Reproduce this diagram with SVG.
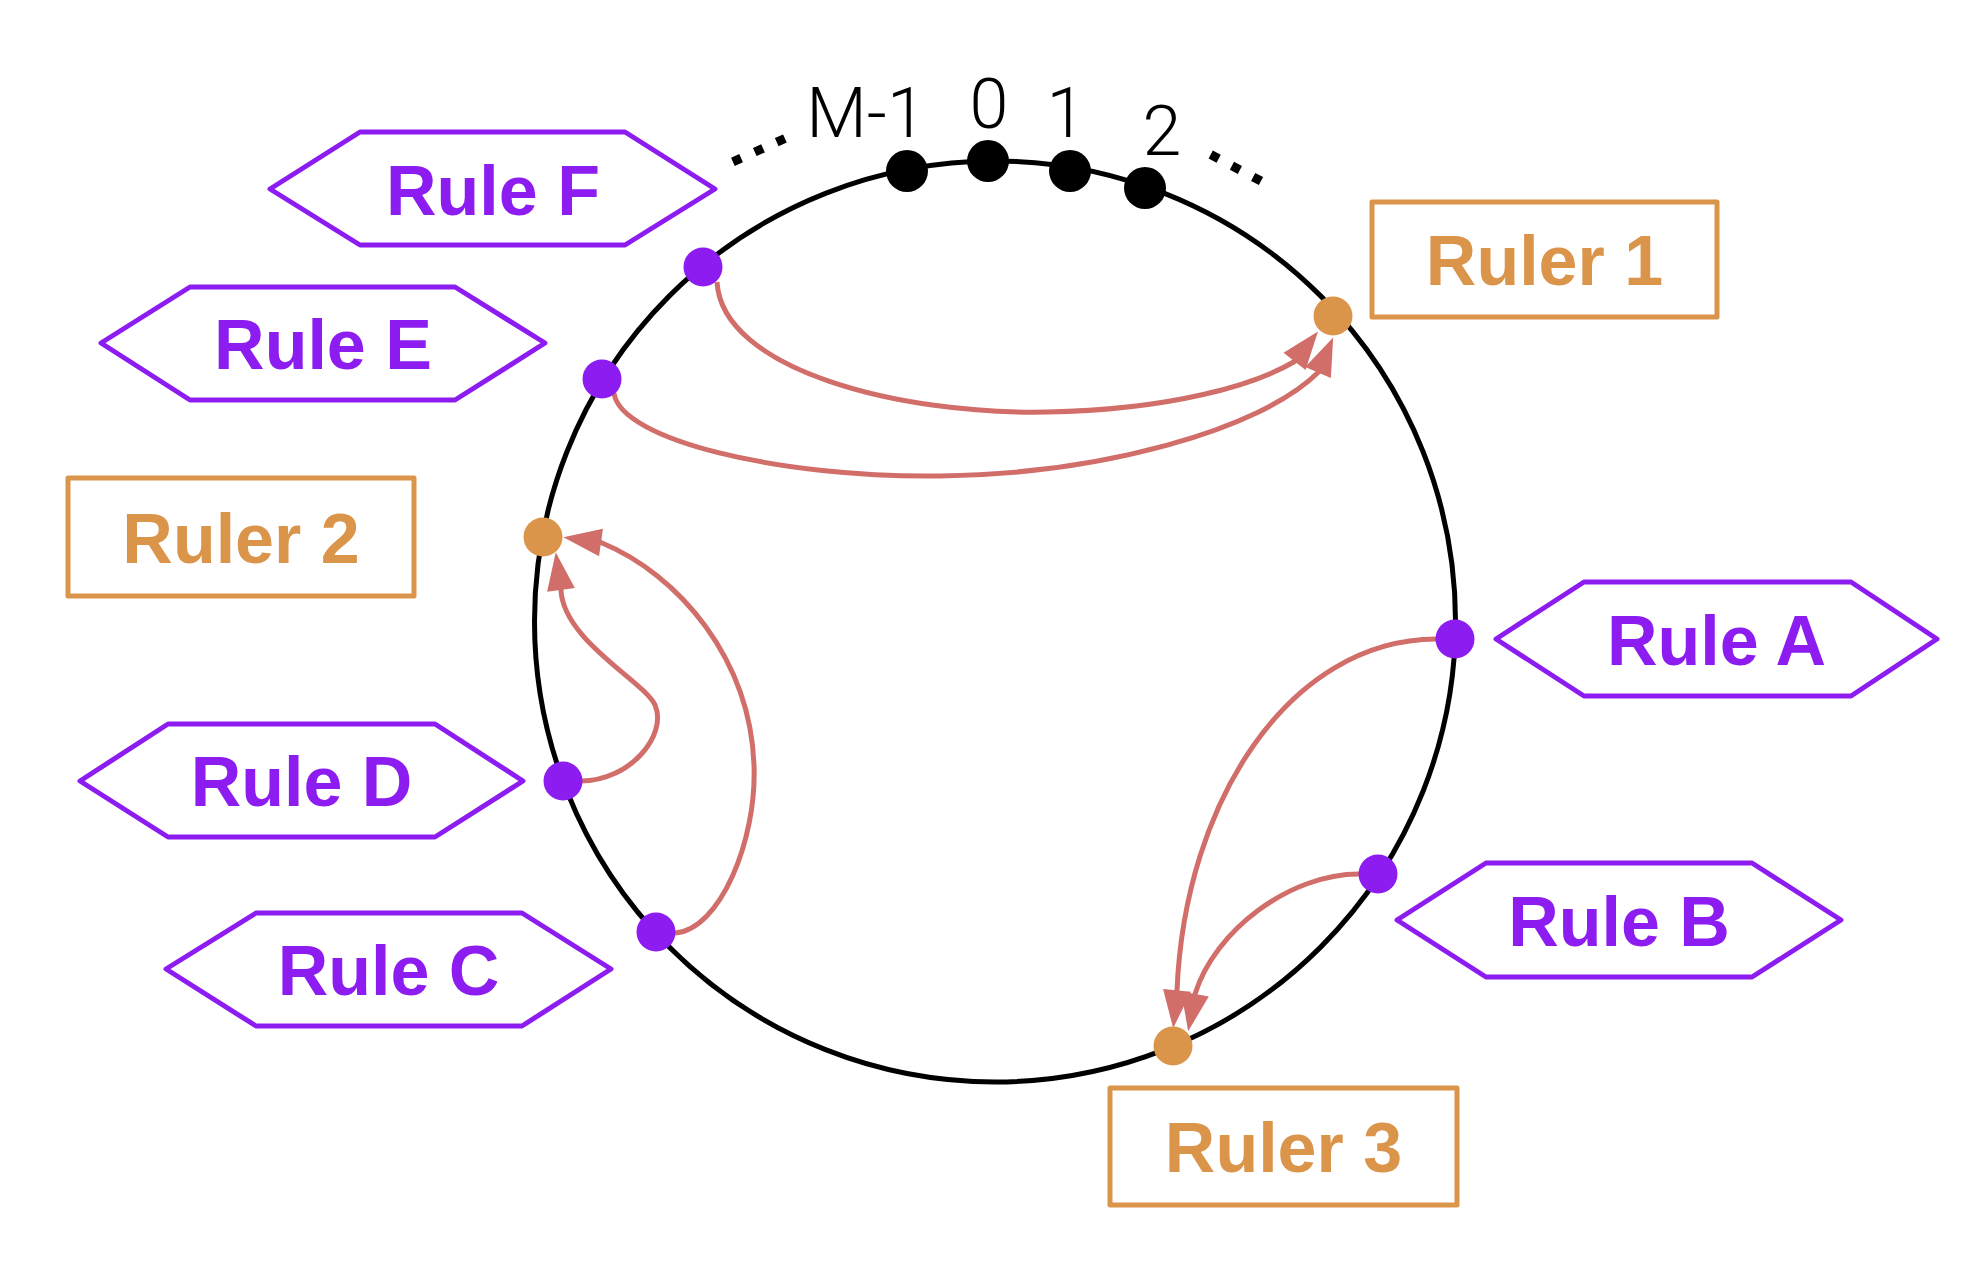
<svg xmlns="http://www.w3.org/2000/svg" width="1978" height="1269" viewBox="0 0 1978 1269">
<defs>
<style>
.hex{fill:#fff;stroke:#8c1cf0;stroke-width:5;stroke-linejoin:round}
.box{fill:#fff;stroke:#db954a;stroke-width:5;stroke-linejoin:round}
.lbl{font-family:"Liberation Sans",Arial,Helvetica,sans-serif;font-weight:bold;font-size:70px;text-anchor:middle}
.p{fill:#8c1cf0}
.o{fill:#db954a}
.conn{fill:none;stroke:#d16e6a;stroke-width:5;marker-end:url(#ah)}
.num{font-family:Roboto,"Liberation Sans",sans-serif;font-weight:300;font-size:70px;text-anchor:middle;fill:#000}
.dots{fill:none;stroke:#000;stroke-width:9;stroke-dasharray:9 15}
</style>
<marker id="ah" markerUnits="userSpaceOnUse" markerWidth="40" markerHeight="30" refX="10" refY="14" orient="auto" overflow="visible">
<path d="M0,0 L38,14 L0,28 z" fill="#d16e6a"/>
</marker>
</defs>
<rect width="1978" height="1269" fill="#fff"/>
<g id="ring">
<circle cx="995" cy="621.5" r="460.5" fill="none" stroke="#000" stroke-width="5"/>
<path class="dots" d="M732.9,161.8 L785.6,138.2"/>
<path class="dots" d="M1210.7,154.6 L1261,181.1"/>
<circle cx="907" cy="171" r="21" fill="#000"/>
<circle cx="988" cy="161" r="21" fill="#000"/>
<circle cx="1070" cy="171" r="21" fill="#000"/>
<circle cx="1145" cy="188" r="21" fill="#000"/>
<text class="num" x="866" y="137">M-1</text>
<text class="num" x="989" y="128">0</text>
<text class="num" x="1066" y="137">1</text>
<text class="num" x="1162" y="155">2</text>
</g>
<g id="connectors">
<path class="conn" d="M717,282 C722,370 900,415 1047,412 C1170,410 1255,385 1294.5,361.5 L1300.7,353.6"/>
<path class="conn" d="M614,393 C620,440 780,478 940,476 C1100,474 1260,430 1318,372.5 L1322,363.3"/>
<path class="conn" d="M581,781 C630,781 668,735 655,705 C645,682 563,640 561,590 L559.6,580"/>
<path class="conn" d="M675,933 C720,930 757,840 754,765 C750,660 680,575 601,542.5 L591.1,541.1"/>
<path class="conn" d="M1436,639 C1290,640 1185,800 1177,990.5 L1176,1000.4"/>
<path class="conn" d="M1359,874 C1290,874 1215,930 1195,994 L1193.2,1003.8"/>
</g>
<g id="rule-f">
<polygon class="hex" points="270,189 360,132 625,132 715,189 625,245 360,245"/>
<text class="lbl p" x="493" y="215">Rule F</text>
<circle class="p" cx="703" cy="267" r="19.5"/>
</g>
<g id="rule-e">
<polygon class="hex" points="101,343 190,287 455,287 545,343 455,400 190,400"/>
<text class="lbl p" x="323" y="369">Rule E</text>
<circle class="p" cx="602" cy="379" r="19.5"/>
</g>
<g id="ruler-2">
<rect class="box" x="68" y="478" width="346" height="118"/>
<text class="lbl o" x="241" y="563">Ruler 2</text>
<circle class="o" cx="543" cy="537" r="19.5"/>
</g>
<g id="rule-d">
<polygon class="hex" points="80,781 168,724 435,724 523,781 435,837 168,837"/>
<text class="lbl p" x="301.5" y="806">Rule D</text>
<circle class="p" cx="563" cy="781" r="19.5"/>
</g>
<g id="rule-c">
<polygon class="hex" points="166,969 256,913 522,913 611,969 522,1026 256,1026"/>
<text class="lbl p" x="388.5" y="995">Rule C</text>
<circle class="p" cx="656" cy="932" r="19.5"/>
</g>
<g id="ruler-1">
<rect class="box" x="1372" y="202" width="345" height="115"/>
<text class="lbl o" x="1544.5" y="285">Ruler 1</text>
<circle class="o" cx="1333" cy="316" r="19.5"/>
</g>
<g id="rule-a">
<polygon class="hex" points="1496,639 1584,582 1851,582 1937,639 1851,696 1584,696"/>
<text class="lbl p" x="1716.5" y="665">Rule A</text>
<circle class="p" cx="1455" cy="639" r="19.5"/>
</g>
<g id="rule-b">
<polygon class="hex" points="1397,920 1486,863 1752,863 1841,920 1752,977 1486,977"/>
<text class="lbl p" x="1619" y="946">Rule B</text>
<circle class="p" cx="1378" cy="874" r="19.5"/>
</g>
<g id="ruler-3">
<rect class="box" x="1110" y="1088" width="347" height="117"/>
<text class="lbl o" x="1283.5" y="1172">Ruler 3</text>
<circle class="o" cx="1173" cy="1046" r="19.5"/>
</g>
</svg>
